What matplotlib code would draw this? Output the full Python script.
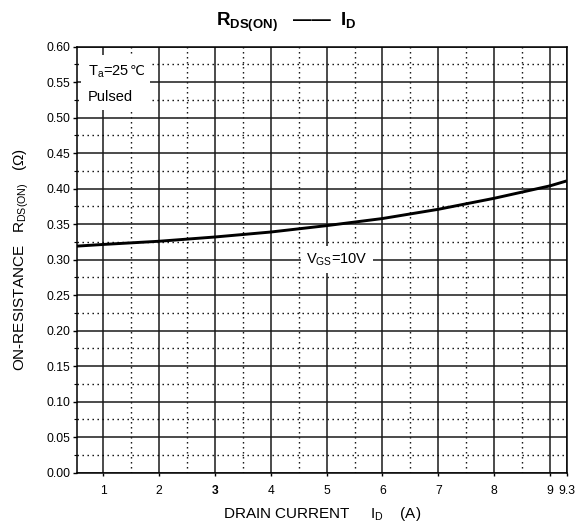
import numpy as np
import matplotlib
matplotlib.use("Agg")
import matplotlib.pyplot as plt
from matplotlib.patches import Rectangle

plt.rcParams['font.family'] = ['Liberation Sans', 'DejaVu Sans']
plt.rcParams['mathtext.fontset'] = 'custom'
plt.rcParams['mathtext.rm'] = 'Liberation Sans'
plt.rcParams['mathtext.it'] = 'Liberation Sans'
plt.rcParams['mathtext.bf'] = 'Liberation Sans:bold'
plt.rcParams['mathtext.default'] = 'regular'

# ---- data ----
drain_current = [0.5, 1, 2, 3, 4, 5, 6, 7, 8, 9, 9.3]
on_resistance = [0.319, 0.3215, 0.326, 0.332, 0.339, 0.348, 0.358, 0.371, 0.3865, 0.404, 0.411]

x_ticks = [1, 2, 3, 4, 5, 6, 7, 8, 9, 9.3]
x_tick_labels = ['1', '2', '3', '4', '5', '6', '7', '8', '9', '9.3']
x_minor = [1.5, 2.5, 3.5, 4.5, 5.5, 6.5, 7.5, 8.5]
y_ticks = [0.00, 0.05, 0.10, 0.15, 0.20, 0.25, 0.30, 0.35, 0.40, 0.45, 0.50, 0.55, 0.60]
y_tick_labels = ['0.00', '0.05', '0.10', '0.15', '0.20', '0.25', '0.30',
                 '0.35', '0.40', '0.45', '0.50', '0.55', '0.60']
y_minor = [0.025, 0.075, 0.125, 0.175, 0.225, 0.275, 0.325, 0.375, 0.425,
           0.475, 0.525, 0.575]

W, H = 581, 526
fig = plt.figure(figsize=(W / 100, H / 100), dpi=100)
ax = fig.add_axes([0.132, 0.1013, 0.9754 - 0.132, 0.9112 - 0.1013])

ax.set_xlim(0.524, 9.3)
ax.set_ylim(0.0, 0.6)

ax.set_xticks(x_ticks)
ax.set_xticklabels(x_tick_labels, fontsize=8.7)
ax.set_xticks(x_minor, minor=True)
ax.set_yticks(y_ticks)
ax.set_yticklabels(y_tick_labels, fontsize=8.7)
ax.set_yticks(y_minor, minor=True)
ax.get_xticklabels()[2].set_fontweight('bold')

ax.tick_params(axis='x', which='major', direction='out', length=2, width=1, pad=7)
ax.tick_params(axis='x', which='minor', direction='out', length=0)
ax.tick_params(axis='y', which='major', direction='out', length=3, width=1, pad=1.5)
ax.tick_params(axis='y', which='minor', direction='out', length=2, width=0.8)

ax.set_axisbelow(True)
ax.grid(which='major', color='#1a1a1a', linewidth=1.1, linestyle='-')
ax.grid(which='minor', color='black', linewidth=1.0, linestyle=(0, (1, 2.6)))

for sp in ax.spines.values():
    sp.set_linewidth(1.1)
    sp.set_color('black')

# curve
ax.plot(drain_current, on_resistance, color='black', linewidth=2.1, zorder=5,
        solid_capstyle='butt')

# condition box top-left
ax.add_patch(Rectangle((0.60, 0.511), 1.836 - 0.60, 0.588 - 0.511,
                       facecolor='white', edgecolor='none', zorder=2))
t1 = ax.text(0.726, 0.560, r'T$_a$=25', fontsize=10.5, ha='left', va='baseline', zorder=6)
ax.annotate('℃', xy=(1.0, 0.560), xycoords=(t1, 'data'), xytext=(0, 0),
            textcoords='offset points', fontsize=9.5, family='DejaVu Sans',
            ha='left', va='baseline', zorder=6)
ax.text(0.726, 0.524, 'Pulsed', fontsize=10.5, ha='left', va='baseline', zorder=6)

# VGS label
ax.text(5.18, 0.300, r'V$_{GS}$=10V', fontsize=10.5, ha='center', va='center', zorder=6,
        bbox=dict(boxstyle='square,pad=0.35', facecolor='white', edgecolor='none'))

# axis labels
ax.set_xlabel(r'DRAIN CURRENT     I$_D$    (A)', fontsize=11)
ax.xaxis.set_label_coords(0.5, -0.076)
ax.set_ylabel(r'ON-RESISTANCE   R$_{DS(ON)}$   (Ω)', fontsize=11)
ax.yaxis.set_label_coords(-0.094, 0.5)

# title
fig.text(0.4931, 1 - 26 / 526, r'R$_{DS(ON)}$   ——  I$_D$', fontsize=13.5,
         fontweight='bold', ha='center', va='baseline')

fig.savefig('out.png', dpi=100)
